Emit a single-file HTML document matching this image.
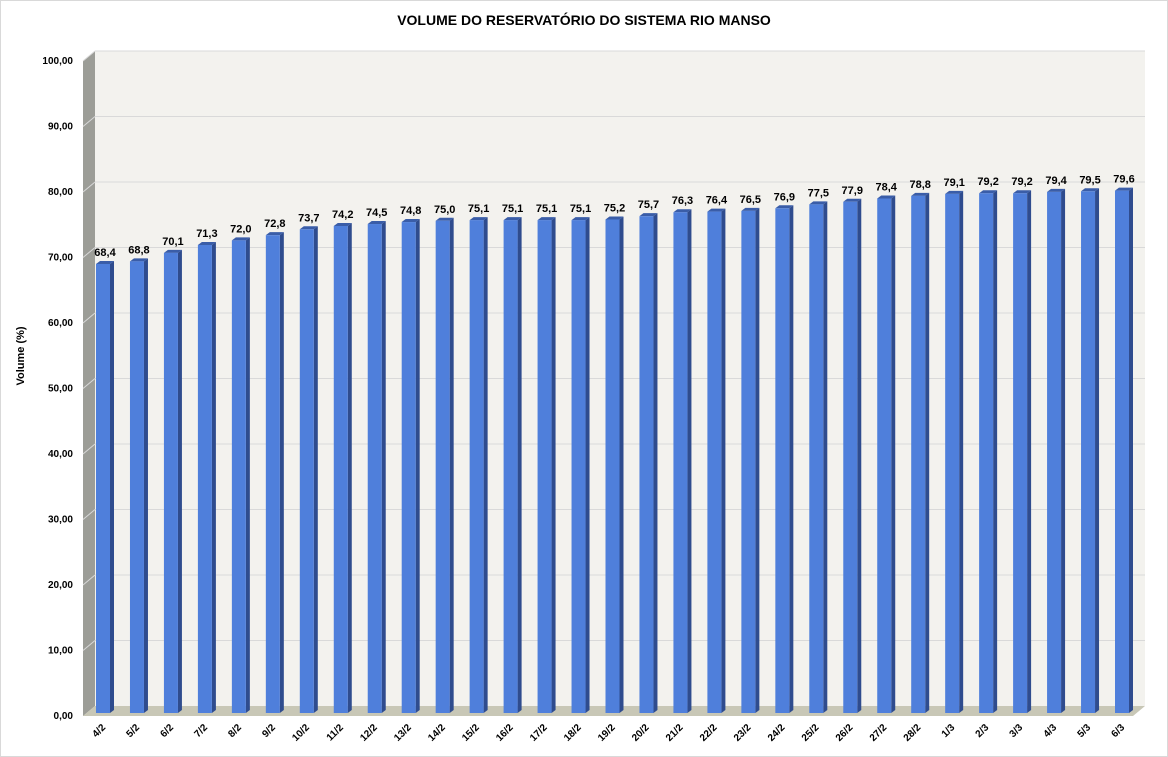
<!DOCTYPE html>
<html><head><meta charset="utf-8"><style>
body{margin:0;background:#fff}
svg{display:block;font-family:"Liberation Sans",Arial,sans-serif}
</style></head><body>
<svg id="s" width="1168" height="757" viewBox="0 0 1168 757">
<rect x="0.5" y="0.5" width="1167" height="756" fill="#fff" stroke="#d9d9d9"/>
<text x="584" y="25" text-anchor="middle" font-size="14" font-weight="bold">VOLUME DO RESERVATÓRIO DO SISTEMA RIO MANSO</text>
<text transform="translate(24,356) rotate(-90)" text-anchor="middle" font-size="11" font-weight="bold">Volume (%)</text>
<rect x="95" y="51" width="1050" height="655" fill="#f3f2ee"/>
<polygon points="83,61 95,51 95,706 83,716" fill="#9c9d97"/>
<polygon points="83,716 95,706 1145,706 1133,716" fill="#c8c7b6"/>
<g id="g"></g>
</svg>
<script>
(function(){
var g=document.getElementById('g'),h='';
var vals=[68.4,68.8,70.1,71.3,72.0,72.8,73.7,74.2,74.5,74.8,75.0,75.1,75.1,75.1,75.1,75.2,75.7,76.3,76.4,76.5,76.9,77.5,77.9,78.4,78.8,79.1,79.2,79.2,79.4,79.5,79.6];
var labs=['4/2','5/2','6/2','7/2','8/2','9/2','10/2','11/2','12/2','13/2','14/2','15/2','16/2','17/2','18/2','19/2','20/2','21/2','22/2','23/2','24/2','25/2','26/2','27/2','28/2','1/3','2/3','3/3','4/3','5/3','6/3'];
for(var i=0;i<=10;i++){var y=706-i*65.5;
 if(i>0)h+='<line x1="95" y1="'+y+'" x2="1145" y2="'+y+'" stroke="#d9d9d9"/><line x1="83" y1="'+(y+10)+'" x2="95" y2="'+y+'" stroke="#d9d9d9"/>';
 h+='<text x="73" y="'+(y+13)+'" text-anchor="end" font-size="10" font-weight="bold">'+(i*10)+',00</text>';}
var n=vals.length,pitch=(1122-103)/(n-1);
for(var i=0;i<n;i++){var c=103+i*pitch,x=c-7,w=14,v=vals[i],t=712-v*6.55,b=713;
 h+='<polygon points="'+(x+w)+','+t+' '+(x+w+4)+','+(t-3)+' '+(x+w+4)+','+(b-3)+' '+(x+w)+','+b+'" fill="#2f4c8e"/>';
 h+='<polygon points="'+x+','+t+' '+(x+4)+','+(t-3)+' '+(x+w+4)+','+(t-3)+' '+(x+w)+','+t+'" fill="#3a5da8"/>';
 h+='<rect x="'+x+'" y="'+t+'" width="'+w+'" height="'+(b-t)+'" fill="#4f7fdb"/>';
 h+='<text x="'+(c+2)+'" y="'+(t-8)+'" text-anchor="middle" font-size="11" font-weight="bold">'+v.toFixed(1).replace('.',',')+'</text>';
 h+='<text transform="translate('+(c+3)+',728) rotate(-45)" text-anchor="end" font-size="10" font-weight="bold">'+labs[i]+'</text>';}
g.innerHTML=h;
})();
</script>
</body></html>
